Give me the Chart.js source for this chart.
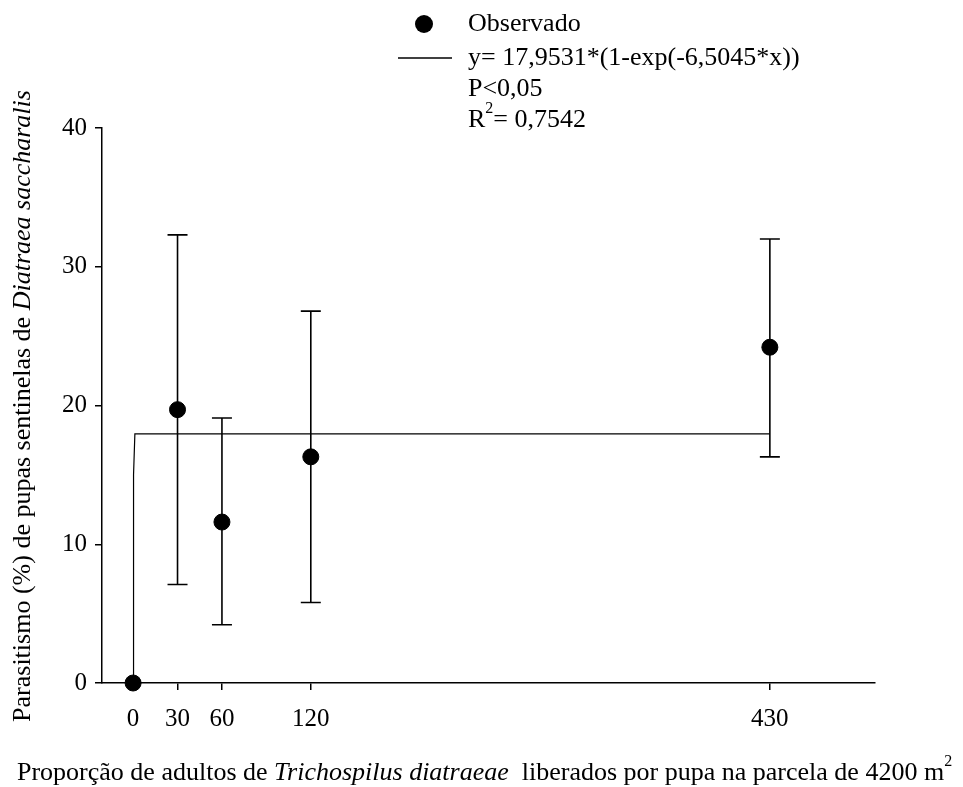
<!DOCTYPE html>
<html lang="pt">
<head>
<meta charset="utf-8">
<title>Parasitismo de pupas sentinelas</title>
<script src="https://cdn.jsdelivr.net/npm/chart.js@4"></script>
<style>
  html, body { margin: 0; padding: 0; background: #fff; }
  #wrap { width: 963px; height: 787px; position: relative; }
</style>
</head>
<body>
<div id="wrap"><canvas id="chart"></canvas></div>
<script>
// Dados
const doses = [0, 30, 60, 120, 430];
const observado = [0, 19.7, 11.6, 16.3, 24.2];
const erroSup = [0, 32.3, 19.1, 26.8, 32.0];
const erroInf = [0, 7.1, 4.2, 5.8, 16.3];

// curva ajustada (y = 17,9531*(1-exp(-6,5045*x)))
const curvaX = [0, 0.3, 1.2, 430];
const curvaY = [0, 15.0, 17.95, 17.95];

const xTicks = [0, 30, 60, 120, 430];
const yTicks = [0, 10, 20, 30, 40];

const SERIF = '"Liberation Serif", "Times New Roman", serif';
const BLACK = "#000";

// desenha texto com trechos em itálico / sobrescrito
function drawRich(ctx, parts, x, y, size) {
  let cx = x;
  parts.forEach((p) => {
    const fs = p.sup ? Math.round(size * 0.62) : size;
    ctx.font = `${p.italic ? "italic " : ""}${fs}px ${SERIF}`;
    ctx.fillText(p.t, cx, p.sup ? y - size * 0.42 : y);
    cx += ctx.measureText(p.t).width;
  });
}
function richWidth(ctx, parts, size) {
  return parts.reduce((w, p) => {
    const fs = p.sup ? Math.round(size * 0.62) : size;
    ctx.font = `${p.italic ? "italic " : ""}${fs}px ${SERIF}`;
    return w + ctx.measureText(p.t).width;
  }, 0);
}

const errorBars = {
  id: "errorBars",
  beforeDatasetsDraw(chart) {
    const { ctx, scales: { x, y } } = chart;
    ctx.save();
    ctx.strokeStyle = BLACK;
    ctx.lineWidth = 1.6;
    doses.forEach((d, i) => {
      if (erroSup[i] === erroInf[i]) return;
      const px = x.getPixelForValue(d);
      const top = y.getPixelForValue(erroSup[i]);
      const bot = y.getPixelForValue(erroInf[i]);
      ctx.beginPath();
      ctx.moveTo(px, top); ctx.lineTo(px, bot);
      ctx.moveTo(px - 10, top); ctx.lineTo(px + 10, top);
      ctx.moveTo(px - 10, bot); ctx.lineTo(px + 10, bot);
      ctx.stroke();
    });
    ctx.restore();
  },
};

const annotations = {
  id: "annotations",
  afterDraw(chart) {
    const ctx = chart.ctx;
    ctx.save();
    ctx.fillStyle = BLACK;
    ctx.strokeStyle = BLACK;
    ctx.textBaseline = "middle";
    ctx.textAlign = "left";

    // legenda
    ctx.beginPath();
    ctx.arc(424, 24, 9, 0, Math.PI * 2);
    ctx.fill();
    ctx.lineWidth = 1.3;
    ctx.beginPath();
    ctx.moveTo(398, 58); ctx.lineTo(452, 58);
    ctx.stroke();
    const ls = 26;
    drawRich(ctx, [{ t: "Observado" }], 468, 24, ls);
    drawRich(ctx, [{ t: "y= 17,9531*(1-exp(-6,5045*x))" }], 468, 58, ls);
    drawRich(ctx, [{ t: "P<0,05" }], 468, 89, ls);
    drawRich(ctx, [{ t: "R" }, { t: "2", sup: true }, { t: "= 0,7542" }], 468, 120, ls);

    // título eixo x
    const xt = [
      { t: "Proporção de adultos de " },
      { t: "Trichospilus diatraeae", italic: true },
      { t: "  liberados por pupa na parcela de 4200 m" },
      { t: "2", sup: true },
    ];
    drawRich(ctx, xt, 17, 773, 26);

    // título eixo y
    const yt = [
      { t: "Parasitismo (%) de pupas sentinelas de " },
      { t: "Diatraea saccharalis", italic: true },
    ];
    const w = richWidth(ctx, yt, 26);
    ctx.translate(23, 406);
    ctx.rotate(-Math.PI / 2);
    drawRich(ctx, yt, -w / 2, 0, 26);
    ctx.restore();
  },
};

new Chart(document.getElementById("chart"), {
  data: {
    datasets: [
      {
        type: "line",
        label: "Ajuste",
        data: curvaX.map((v, i) => ({ x: v, y: curvaY[i] })),
        borderColor: BLACK,
        borderWidth: 1.2,
        pointRadius: 0,
        tension: 0,
        fill: false,
      },
      {
        type: "scatter",
        label: "Observado",
        data: doses.map((v, i) => ({ x: v, y: observado[i] })),
        backgroundColor: BLACK,
        borderColor: BLACK,
        pointRadius: 8,
        pointHoverRadius: 8,
        clip: false,
      },
    ],
  },
  options: {
    responsive: true,
    maintainAspectRatio: false,
    animation: false,
    layout: { padding: { top: 128, right: 88, left: 0, bottom: 0 } },
    plugins: { legend: { display: false }, tooltip: { enabled: false } },
    scales: {
      x: {
        type: "linear",
        min: -21,
        max: 501,
        afterBuildTicks: (s) => { s.ticks = xTicks.map((v) => ({ value: v })); },
        afterFit: (s) => { s.height = 104; },
        grid: { drawOnChartArea: false, color: BLACK, tickLength: 7, lineWidth: 1.5 },
        border: { color: BLACK, width: 1.5 },
        ticks: { color: BLACK, font: { family: SERIF, size: 25 }, padding: 14, maxRotation: 0 },
      },
      y: {
        min: 0,
        max: 40,
        afterBuildTicks: (s) => { s.ticks = yTicks.map((v) => ({ value: v })); },
        afterFit: (s) => { s.width = 102; },
        grid: { drawOnChartArea: false, color: BLACK, tickLength: 7, lineWidth: 1.5 },
        border: { color: BLACK, width: 1.5 },
        ticks: { color: BLACK, font: { family: SERIF, size: 25 }, padding: 8 },
      },
    },
  },
  plugins: [errorBars, annotations],
});
</script>
</body>
</html>
